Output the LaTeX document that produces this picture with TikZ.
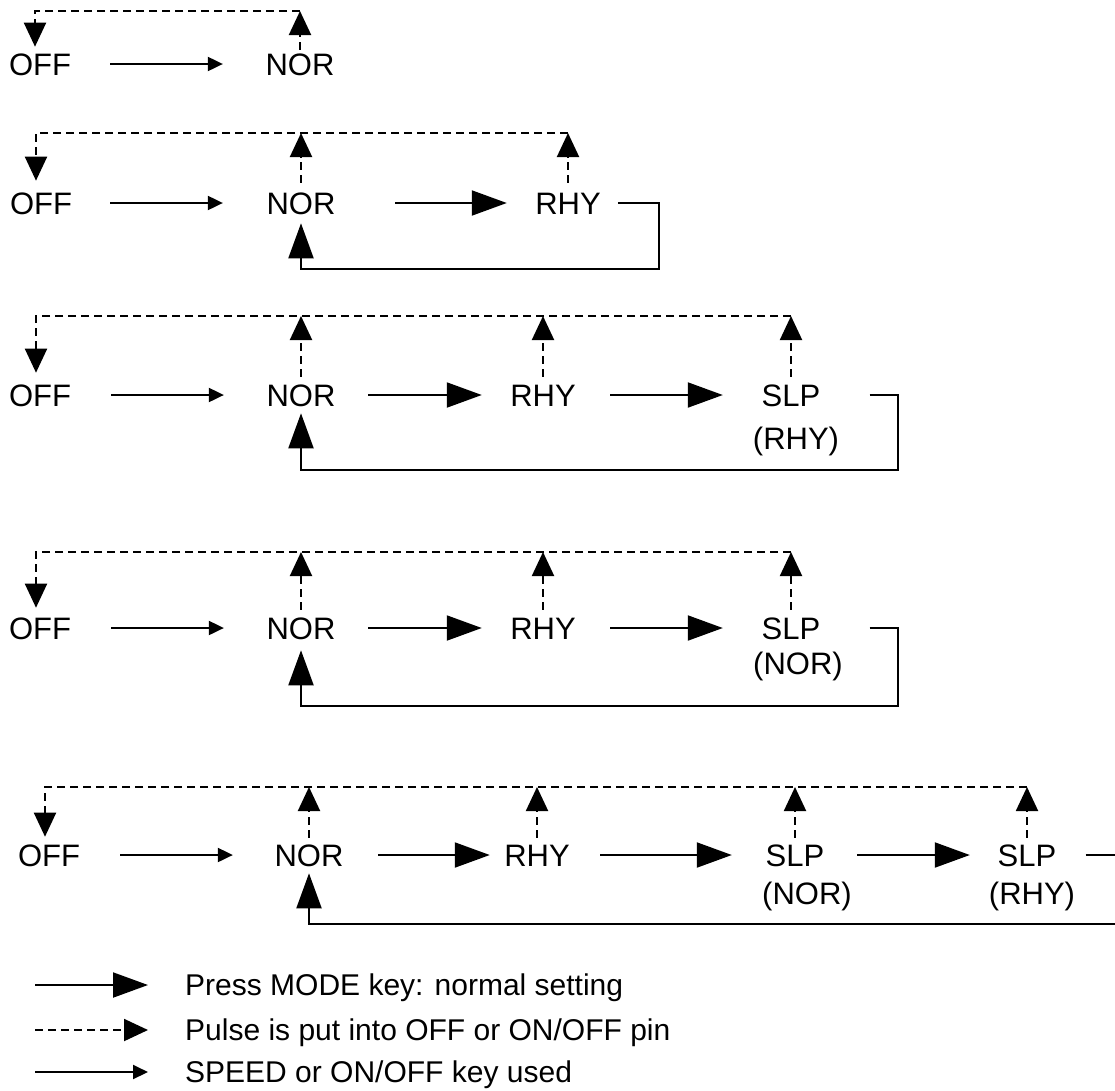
\documentclass[tikz,border=0pt]{standalone}
\usepackage{fontspec}
\setmainfont{Liberation Sans}
\usetikzlibrary{arrows.meta}
\begin{document}
\begin{tikzpicture}[x=1pt,y=-1pt,
  lbl/.style={font=\fontsize{31}{34}\selectfont, inner sep=0pt, text height=22.2pt, text depth=0pt},
  leg/.style={font=\fontsize{30}{34}\selectfont, inner sep=0pt, anchor=west, text height=21.5pt, text depth=0pt},
  ln/.style={line width=2pt},
  dsh/.style={line width=2pt, dash pattern=on 8pt off 5pt},
  big/.style={-{Triangle[length=35pt,width=25pt]}},
  sml/.style={-{Triangle[length=15pt,width=14pt]}},
  dtip/.style={-{Triangle[length=24pt,width=22pt]}},
]
\useasboundingbox (0,0) rectangle (1115,1090);

% ---------- Row 1
\node[lbl] (a1) at (40,64) {OFF};
\node[lbl] (a2) at (300,64) {NOR};
\coordinate (ad) at (300,11);
\draw[ln,sml,shorten <=39pt,shorten >=42.5pt] (a1) -- (a2);
\draw[dsh,dtip] ([yshift=3pt]a2.north) -- (a2.north |- ad);
\draw[dsh,dtip] (ad) -| ([xshift=-5pt,yshift=6pt]a1.north);

% ---------- Row 2
\node[lbl] (b1) at (41,203) {OFF};
\node[lbl] (b2) at (301,203) {NOR};
\node[lbl] (b3) at (568,203) {RHY};
\coordinate (bd) at (568,133);
\coordinate (bl) at (659,269);
\draw[ln,sml,shorten <=38pt,shorten >=43.5pt] (b1) -- (b2);
\draw[ln,big,shorten <=59.5pt,shorten >=28.3pt] (b2) -- (b3);
\draw[dsh,dtip] ([yshift=9pt]b2.north) -- (b2.north |- bd);
\draw[dsh,dtip] ([yshift=9pt]b3.north) -- (bd);
\draw[dsh,dtip] (bd) -| ([xshift=-5pt,yshift=11pt]b1.north);
\draw[ln,big] ([xshift=17pt]b3.east) -| (bl) -| ([yshift=-9pt]b2.south);

% ---------- Row 3
\node[lbl] (c1) at (40,395) {OFF};
\node[lbl] (c2) at (301,395) {NOR};
\node[lbl] (c3) at (543,395) {RHY};
\node[lbl] (c4) at (791,395) {SLP};
\node[lbl] (c4s) at (796,438) {(RHY)};
\coordinate (cd) at (791,316);
\coordinate (cl) at (898,470);
\draw[ln,sml,shorten <=40pt,shorten >=42.5pt] (c1) -- (c2);
\draw[ln,big,shorten <=32.5pt,shorten >=28.3pt] (c2) -- (c3);
\draw[ln,big,shorten <=34.3pt,shorten >=38.7pt] (c3) -- (c4);
\draw[dsh,dtip] ([yshift=7pt]c2.north) -- (c2.north |- cd);
\draw[dsh,dtip] ([yshift=7pt]c3.north) -- (c3.north |- cd);
\draw[dsh,dtip] ([yshift=7pt]c4.north) -- (cd);
\draw[dsh,dtip] (cd) -| ([xshift=-4pt,yshift=11pt]c1.north);
\draw[ln,big] ([xshift=49pt]c4.east) -| (cl) -| ([yshift=-7pt]c2.south);

% ---------- Row 4
\node[lbl] (d1) at (40,628) {OFF};
\node[lbl] (d2) at (301,628) {NOR};
\node[lbl] (d3) at (543,628) {RHY};
\node[lbl] (d4) at (791,628) {SLP};
\node[lbl] (d4s) at (798,663) {(NOR)};
\coordinate (dd) at (791,552);
\coordinate (dl) at (898,706);
\draw[ln,sml,shorten <=40pt,shorten >=42.5pt] (d1) -- (d2);
\draw[ln,big,shorten <=32.5pt,shorten >=28.3pt] (d2) -- (d3);
\draw[ln,big,shorten <=34.3pt,shorten >=38.7pt] (d3) -- (d4);
\draw[dsh,dtip] ([yshift=7pt]d2.north) -- (d2.north |- dd);
\draw[dsh,dtip] ([yshift=7pt]d3.north) -- (d3.north |- dd);
\draw[dsh,dtip] ([yshift=7pt]d4.north) -- (dd);
\draw[dsh,dtip] (dd) -| ([xshift=-4pt,yshift=9pt]d1.north);
\draw[ln,big] ([xshift=49pt]d4.east) -| (dl) -| ([yshift=-11pt]d2.south);

% ---------- Row 5
\node[lbl] (e1) at (49,855) {OFF};
\node[lbl] (e2) at (309,855) {NOR};
\node[lbl] (e3) at (537,855) {RHY};
\node[lbl] (e4) at (795,855) {SLP};
\node[lbl] (e4s) at (807,893) {(NOR)};
\node[lbl] (e5) at (1027,855) {SLP};
\node[lbl] (e5s) at (1032,893) {(RHY)};
\coordinate (ed) at (1027,787);
\coordinate (el) at (1130,924);
\draw[ln,sml,shorten <=40pt,shorten >=41.5pt] (e1) -- (e2);
\draw[ln,big,shorten <=34.5pt,shorten >=14.3pt] (e2) -- (e3);
\draw[ln,big,shorten <=30.3pt,shorten >=33.7pt] (e3) -- (e4);
\draw[ln,big,shorten <=32.7pt,shorten >=27.7pt] (e4) -- (e5);
\draw[dsh,dtip] ([yshift=6pt]e2.north) -- (e2.north |- ed);
\draw[dsh,dtip] ([yshift=6pt]e3.north) -- (e3.north |- ed);
\draw[dsh,dtip] ([yshift=6pt]e4.north) -- (e4.north |- ed);
\draw[dsh,dtip] ([yshift=6pt]e5.north) -- (ed);
\draw[dsh,dtip] (ed) -| ([xshift=-4pt,yshift=7pt]e1.north);
\draw[ln,big] ([xshift=29pt]e5.east) -| (el) -| ([yshift=-7pt]e2.south);

% ---------- Legend
\coordinate (g1a) at (35,985);  \coordinate (g1b) at (148,985);
\coordinate (g2a) at (35,1030); \coordinate (g2b) at (148,1030);
\coordinate (g3a) at (35,1072); \coordinate (g3b) at (148,1072);
\draw[ln,big] (g1a) -- (g1b);
\draw[dsh,dtip] (g2a) -- (g2b);
\draw[ln,sml] (g3a) -- (g3b);
\node[leg] (t1) at (185,985) {Press MODE key: normal setting};
\node[leg] (t2) at (185,1030) {Pulse is put into OFF or ON/OFF pin};
\node[leg] (t3) at (185,1072) {SPEED or ON/OFF key used};
\end{tikzpicture}
\end{document}
